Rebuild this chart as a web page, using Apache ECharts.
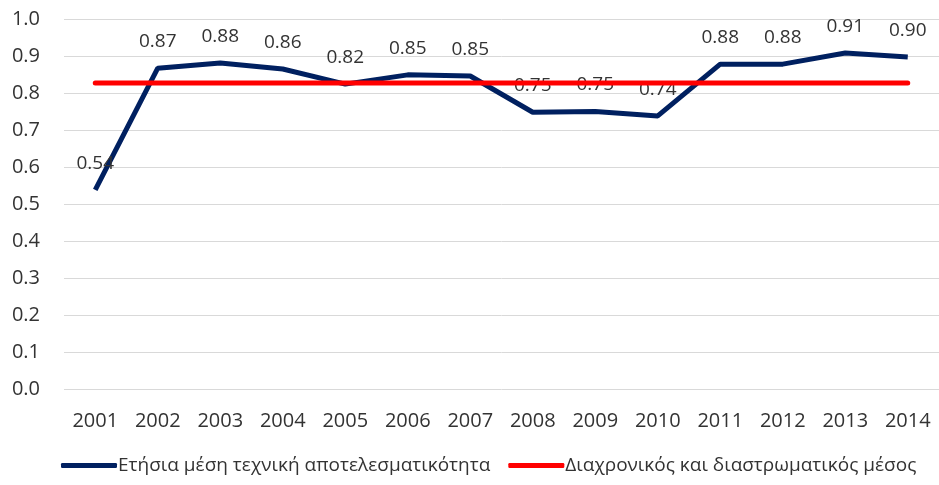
<!DOCTYPE html>
<html>
<head>
<meta charset="utf-8">
<script src="https://cdn.jsdelivr.net/npm/echarts@6/dist/echarts.min.js"></script>
<style>
  html, body { margin: 0; padding: 0; background: #fff; }
  #chart { width: 939px; height: 485px; }
</style>
</head>
<body>
<div id="chart"></div>
<script>
const years = ['2001', '2002', '2003', '2004', '2005', '2006', '2007', '2008', '2009', '2010', '2011', '2012', '2013', '2014']
const annualMean = [0.538, 0.867, 0.881, 0.865, 0.824, 0.849, 0.846, 0.748, 0.750, 0.738, 0.878, 0.878, 0.908, 0.897]
const overallMean = [0.827, 0.827, 0.827, 0.827, 0.827, 0.827, 0.827, 0.827, 0.827, 0.827, 0.827, 0.827, 0.827, 0.827]
const seriesNames = ['Ετήσια μέση τεχνική αποτελεσματικότητα', 'Διαχρονικός και διαστρωματικός μέσος']

const font = 'Open Sans'
const textColor = '#333333'

const chart = echarts.init(document.getElementById('chart'))

chart.setOption({
  animation: false,
  grid: { left: 64, right: 0, top: 19, bottom: 96 },
  legend: {
    bottom: 5,
    left: 56,
    itemWidth: 56,
    itemHeight: 5,
    itemGap: 18,
    icon: 'roundRect',
    textStyle: { fontFamily: font, fontSize: 19, color: textColor, padding: [0, 0, 0, -4] },
    data: seriesNames
  },
  xAxis: {
    type: 'category',
    data: years,
    boundaryGap: true,
    axisLine: { show: false },
    axisTick: { show: false },
    axisLabel: { fontFamily: font, fontSize: 20, color: textColor, margin: 22 }
  },
  yAxis: {
    type: 'value',
    min: 0,
    max: 1,
    interval: 0.1,
    axisLine: { show: false },
    axisTick: { show: false },
    axisLabel: {
      fontFamily: font, fontSize: 20, color: textColor, margin: 24,
      formatter: (v) => v.toFixed(1)
    },
    splitLine: { lineStyle: { color: '#d9d9d9', width: 1 } }
  },
  series: [
    {
      name: seriesNames[0],
      type: 'line',
      data: annualMean,
      symbol: 'circle',
      symbolSize: 0,
      showSymbol: true,
      lineStyle: { color: '#002060', width: 5 },
      itemStyle: { color: '#002060' },
      z: 2,
      label: {
        show: true,
        position: 'top',
        distance: 17,
        fontFamily: font,
        fontSize: 19,
        color: textColor,
        formatter: (p) => p.value.toFixed(2)
      }
    },
    {
      name: seriesNames[1],
      type: 'line',
      data: overallMean,
      symbol: 'none',
      lineStyle: { color: '#ff0000', width: 5, cap: 'round' },
      itemStyle: { color: '#ff0000' },
      z: 3
    }
  ]
})
</script>
</body>
</html>
